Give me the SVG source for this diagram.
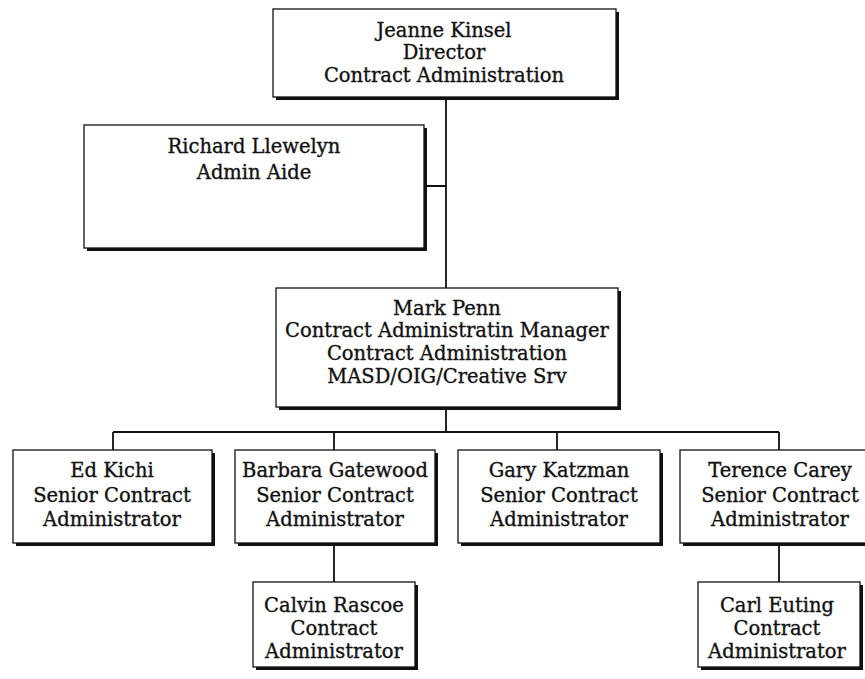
<svg xmlns="http://www.w3.org/2000/svg" width="865" height="679" viewBox="0 0 865 679">
<style>
.box{fill:#fff;stroke:#111;stroke-width:1.3}
.sh{fill:#111}
.t{font-family:"DejaVu Serif","Liberation Serif",serif;font-size:19.5px;fill:#111;stroke:#111;stroke-width:0.35;text-anchor:middle}
.c{fill:none;stroke:#111;stroke-width:1.8}
</style>
<rect width="865" height="679" fill="#fff"/>
<g id="connectors">
<path class="c" d="M446 97 V288 M424 186 H446 M446 407 V432 M113 432 H779 M113 432 V450 M334 432 V450 M557 432 V450 M779 432 V450 M334 543 V582 M779 543 V582"/>
</g>
<g id="jeanne">
<rect class="sh" x="276" y="12" width="343" height="88"/>
<rect class="box" x="273" y="9" width="343" height="88"/>
<text class="t" x="444" y="37">Jeanne Kinsel</text>
<text class="t" x="444" y="59">Director</text>
<text class="t" x="444" y="82">Contract Administration</text>
</g>
<g id="richard">
<rect class="sh" x="87" y="128" width="340" height="123"/>
<rect class="box" x="84" y="125" width="340" height="123"/>
<text class="t" x="254" y="153">Richard Llewelyn</text>
<text class="t" x="254" y="179">Admin Aide</text>
</g>
<g id="mark">
<rect class="sh" x="279" y="291" width="342" height="119"/>
<rect class="box" x="276" y="288" width="342" height="119"/>
<text class="t" x="447" y="315">Mark Penn</text>
<text class="t" x="447" y="337">Contract Administratin Manager</text>
<text class="t" x="447" y="360">Contract Administration</text>
<text class="t" x="447" y="383">MASD/OIG/Creative Srv</text>
</g>
<g id="ed">
<rect class="sh" x="16" y="453" width="199" height="93"/>
<rect class="box" x="13" y="450" width="199" height="93"/>
<text class="t" x="112" y="477">Ed Kichi</text>
<text class="t" x="112" y="502">Senior Contract</text>
<text class="t" x="112" y="526">Administrator</text>
</g>
<g id="barbara">
<rect class="sh" x="238" y="453" width="200" height="93"/>
<rect class="box" x="235" y="450" width="200" height="93"/>
<text class="t" x="335" y="477">Barbara Gatewood</text>
<text class="t" x="335" y="502">Senior Contract</text>
<text class="t" x="335" y="526">Administrator</text>
</g>
<g id="gary">
<rect class="sh" x="461" y="453" width="202" height="93"/>
<rect class="box" x="458" y="450" width="202" height="93"/>
<text class="t" x="559" y="477">Gary Katzman</text>
<text class="t" x="559" y="502">Senior Contract</text>
<text class="t" x="559" y="526">Administrator</text>
</g>
<g id="terence">
<rect class="sh" x="683" y="453" width="190" height="93"/>
<rect class="box" x="680" y="450" width="190" height="93"/>
<text class="t" x="780" y="477">Terence Carey</text>
<text class="t" x="780" y="502">Senior Contract</text>
<text class="t" x="780" y="526">Administrator</text>
</g>
<g id="calvin">
<rect class="sh" x="256" y="585" width="162" height="85"/>
<rect class="box" x="253" y="582" width="162" height="85"/>
<text class="t" x="334" y="612">Calvin Rascoe</text>
<text class="t" x="334" y="635">Contract</text>
<text class="t" x="334" y="658">Administrator</text>
</g>
<g id="carl">
<rect class="sh" x="701" y="585" width="162" height="85"/>
<rect class="box" x="698" y="582" width="162" height="85"/>
<text class="t" x="777" y="612">Carl Euting</text>
<text class="t" x="777" y="635">Contract</text>
<text class="t" x="777" y="658">Administrator</text>
</g>
</svg>
